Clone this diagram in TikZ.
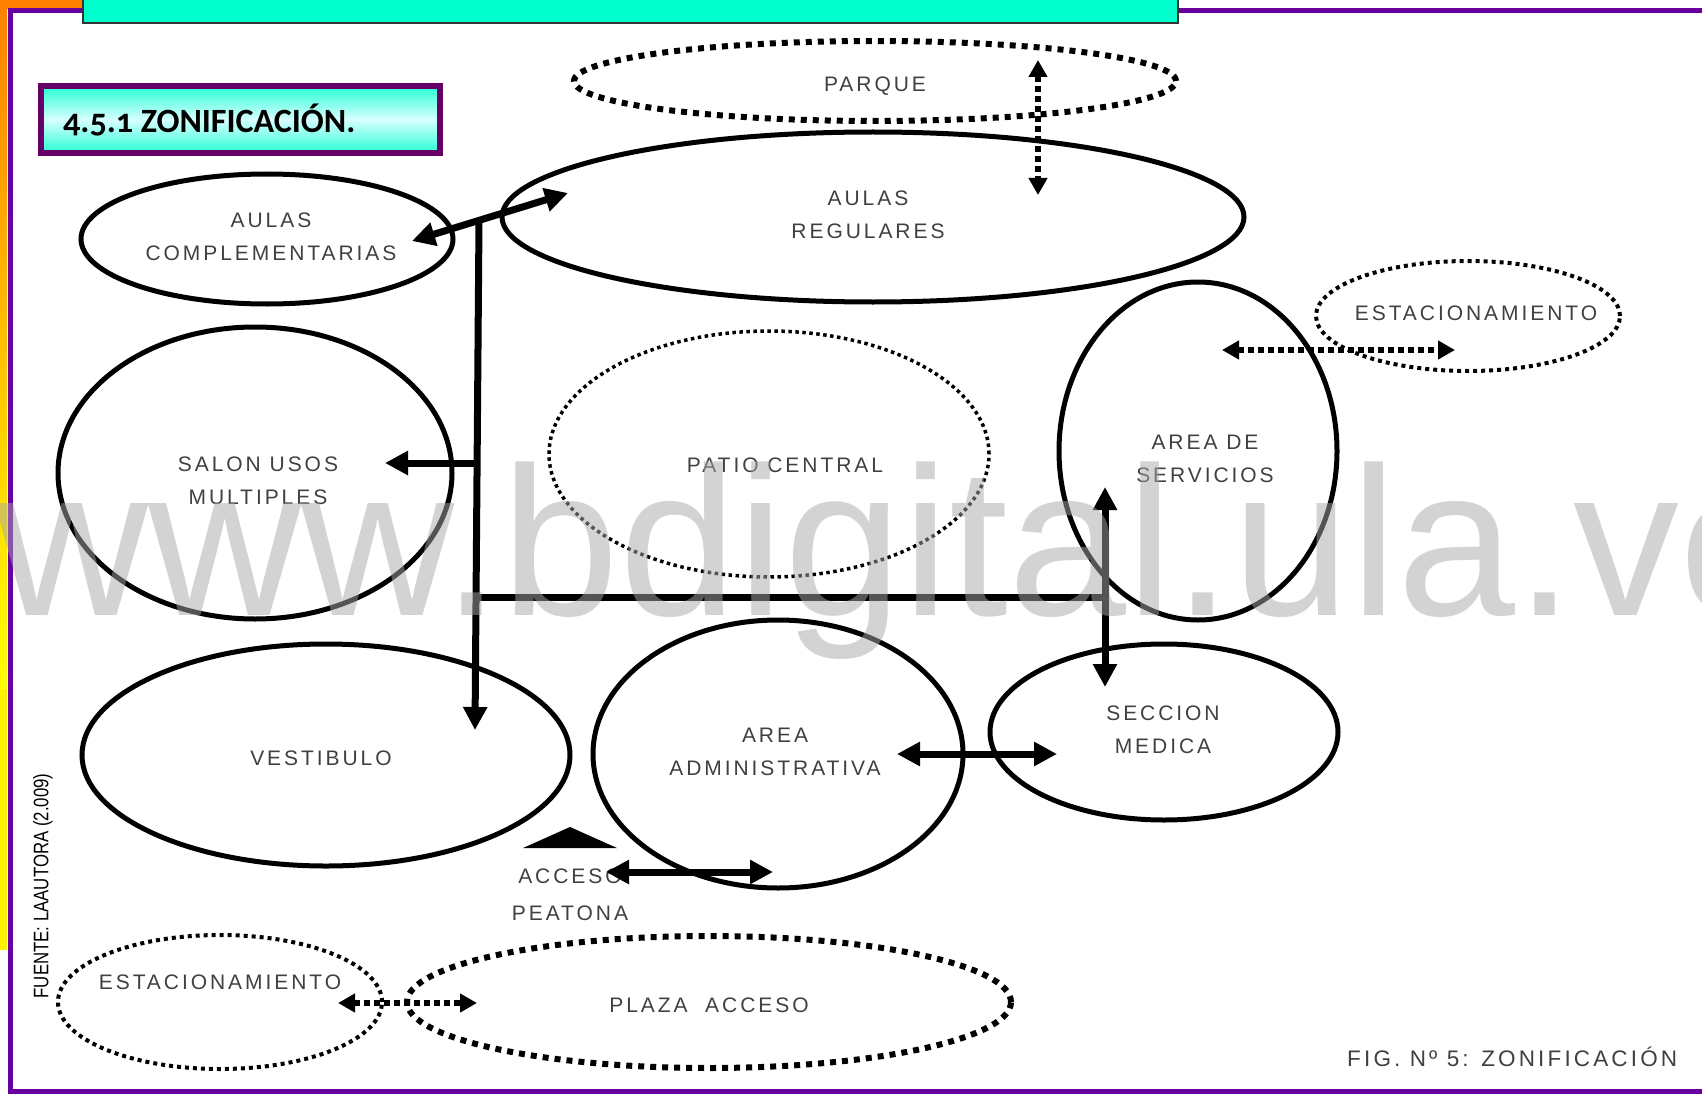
\documentclass[tikz,border=0pt]{standalone}
\usepackage{fontspec}
\setmainfont{Liberation Sans}
\newfontfamily\manofont[LetterSpace=14]{Liberation Sans}
\newfontfamily\titulofont[Numbers=OldStyle]{Carlito}
\newfontfamily\estrechafont[FakeStretch=0.8]{Liberation Sans}
\usetikzlibrary{shapes.geometric,arrows.meta}
\definecolor{marco}{RGB}{104,0,160}
\definecolor{aqua}{RGB}{0,255,204}
\definecolor{aquaclaro}{RGB}{215,255,255}
\definecolor{naranja}{RGB}{255,128,0}
\definecolor{morado}{RGB}{102,0,102}
\definecolor{marca}{RGB}{168,168,168}
\begin{document}
\begin{tikzpicture}[x=1pt,y=-1pt,>={Triangle[length=23pt,width=23pt]},
  zona/.style={ellipse,draw,line width=5pt,inner sep=0pt},
  punteada/.style={ellipse,draw,inner sep=0pt,line width=#1,dash pattern=on #1 off #1},
  rotulo/.style={inner sep=0pt,align=center,text=black!75,font=\manofont\fontsize{21}{32.5}\selectfont},
  flecha/.style={line width=7pt},
  puntos/.style={line width=6pt,dash pattern=on 6pt off 4pt,>={Triangle[length=17pt,width=18pt]}}]
\useasboundingbox (0,0) rectangle (1702,1094);
\clip (0,0) rectangle (1702,1094);
% marco de la lamina
\shade[top color=naranja,bottom color=yellow] (0,0) rectangle (7,690);
\fill[yellow] (0,689) rectangle (7,950);
\fill[naranja] (0,0) rectangle (82,9);
\draw[marco,line width=5pt] (10,10.5) rectangle (1730,1091.5);
\filldraw[fill=aqua,draw=black!80,line width=1.5pt] (83,-5) rectangle (1178,23);
\shade[top color=aqua!85!white,bottom color=aqua!85!white,middle color=aquaclaro] (41,86) rectangle (440,153);
\draw[morado,line width=6pt] (41,86) rectangle (440,153);
\node[anchor=base west,inner sep=0pt,font=\titulofont\bfseries\fontsize{34}{40}\selectfont] (titulo) at (63,133) {4.5.1 ZONIFICACIÓN.};
% zonas
\foreach \n/\x/\y/\a/\b in {regulares/873/217/742/170,complem/267/239/372/130,salon/255/473/394/292,
  servicios/1198/451/278/338,vestibulo/326/755/488/222,admin/778/754/370/268,medica/1164/732/348/176}
  \node[zona,minimum width=\a pt,minimum height=\b pt] (\n) at (\x,\y) {};
\node[punteada=6pt,minimum width=602pt,minimum height=80pt] (parque) at (875,81) {};
\node[punteada=4pt,minimum width=304pt,minimum height=110pt] (estder) at (1468,316) {};
\node[punteada=3.5pt,minimum width=440pt,minimum height=246pt] (patio) at (769,454) {};
\node[punteada=4pt,minimum width=324pt,minimum height=134pt] (estizq) at (220,1002) {};
\node[punteada=6pt,minimum width=604pt,minimum height=132pt] (plaza) at (709,1002) {};
% rotulos
\node[rotulo] (tparque) at (875,86) {PARQUE};
\node[rotulo] (tregulares) at (868,215) {AULAS\\REGULARES};
\node[rotulo] (tcomplem) at (271,237) {AULAS\\COMPLEMENTARIAS};
\node[rotulo] (tsalon) at (258,481) {SALON USOS\\MULTIPLES};
\node[rotulo] (tpatio) at (785,465) {PATIO CENTRAL};
\node[rotulo] (tservicios) at (1205,459) {AREA DE\\SERVICIOS};
\node[rotulo] (testder) at (1476,313) {ESTACIONAMIENTO};
\node[rotulo] (tvestibulo) at (321,758) {VESTIBULO};
\node[rotulo] (tadmin) at (775,752) {AREA\\ADMINISTRATIVA};
\node[rotulo] (tmedica) at (1163,730) {SECCION\\MEDICA};
\node[rotulo] (tacceso) at (570,895) {ACCESO\\[4pt]PEATONA};
\node[rotulo] (testizq) at (220,982) {ESTACIONAMIENTO};
\node[rotulo] (tplaza) at (709,1005) {PLAZA\ \ ACCESO};
\node[rotulo,anchor=base west,font=\manofont\fontsize{22.5}{27}\selectfont] (tfig) at (1347,1066) {FIG. Nº 5: ZONIFICACIÓN};
\node[rotate=90,inner sep=0pt,font=\estrechafont\fontsize{21}{21}\selectfont] (fuente) at (43,886) {FUENTE: LAAUTORA (2.009)};
% circulaciones
\coordinate (a1) at (412,241); \coordinate (a2) at (568,193);
\coordinate (v1) at (479,221); \coordinate (v2) at (475,730);
\coordinate (s1) at (478,463); \coordinate (s2) at (385,463);
\coordinate (h1) at (474,597); \coordinate (h2) at (1108,597);
\coordinate (m1) at (1105,487); \coordinate (m2) at (1105,687);
\coordinate (d1) at (897,754); \coordinate (d2) at (1057,754);
\coordinate (p1) at (606,872); \coordinate (p2) at (773,872);
\draw[flecha,<->] (a1)--(a2);
\draw[flecha,->] (v1)--(v2);
\draw[flecha,->] (s1)--(s2);
\draw[flecha] (h1)--(h2);
\draw[flecha,<->] (m1)--(m2);
\draw[flecha,<->] (d1)--(d2);
\draw[flecha,<->] (p1)--(p2);
\fill (523,848)--(570,827)--(617,848)--cycle;
\coordinate (q1) at (1038,60); \coordinate (q2) at (1038,195);
\coordinate (e1) at (1222,350); \coordinate (e2) at (1455,350);
\coordinate (f1) at (338,1003); \coordinate (f2) at (477,1003);
\draw[puntos,<->] (q1)--(q2);
\draw[puntos,<->] (e1)--(e2);
\draw[puntos,<->] (f1)--(f2);
% marca de agua
\node[anchor=base west,inner sep=0pt,text=marca,text opacity=0.5,font=\fontsize{212}{212}\selectfont] (marca) at (-5,615) {www.bdigital.ula.ve};
\end{tikzpicture}
\end{document}
